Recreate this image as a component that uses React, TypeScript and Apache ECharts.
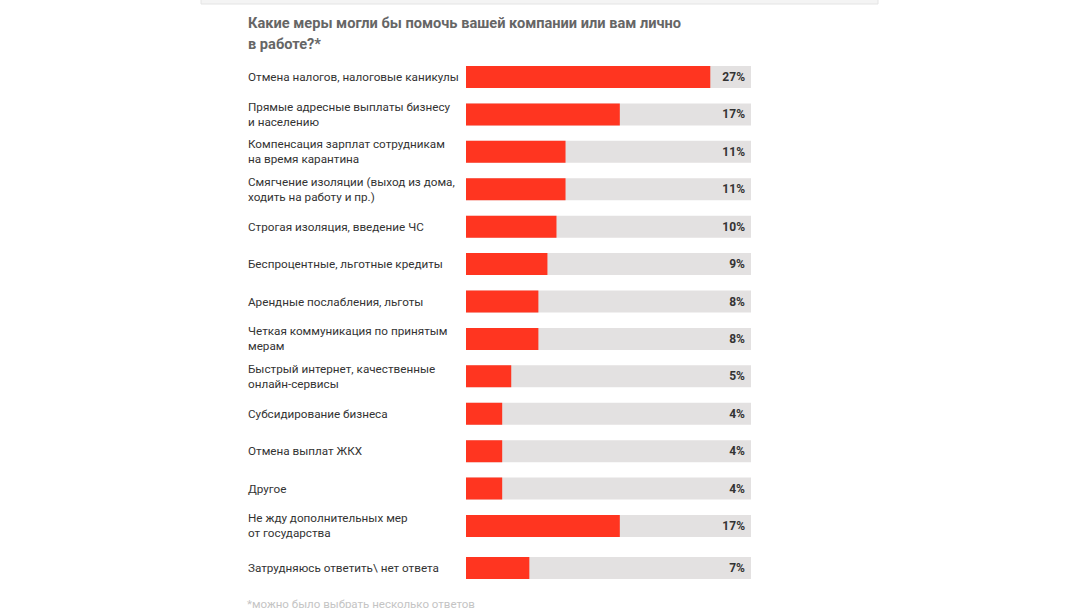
import React, { useEffect, useRef } from "react";
import * as echarts from "echarts";

const categories = [
  "Отмена налогов, налоговые каникулы",
  "Прямые адресные выплаты бизнесу\nи населению",
  "Компенсация зарплат сотрудникам\nна время карантина",
  "Смягчение изоляции (выход из дома,\nходить на работу и пр.)",
  "Строгая изоляция, введение ЧС",
  "Беспроцентные, льготные кредиты",
  "Арендные послабления, льготы",
  "Четкая коммуникация по принятым\nмерам",
  "Быстрый интернет, качественные\nонлайн-сервисы",
  "Субсидирование бизнеса",
  "Отмена выплат ЖКХ",
  "Другое",
  "Не жду дополнительных мер\nот государства",
];
const values = [27, 17, 11, 11, 10, 9, 8, 8, 5, 4, 4, 4, 17];

const lastCategory = ["Затрудняюсь ответить\\ нет ответа"];
const lastValues = [7];

const AXIS_MAX = 31.5;
const title = "Какие меры могли бы помочь вашей компании или вам лично\nв работе?*";
const footnote = "*можно было выбрать несколько ответов";

const FONT = "Roboto, 'Noto Sans', sans-serif";
const RED = "#ff3520";
const GREY = "#e3e1e1";

function buildSeries(vals: number[], axisIndex: number) {
  return [
    {
      type: "bar",
      xAxisIndex: axisIndex,
      yAxisIndex: axisIndex,
      data: vals.map(() => AXIS_MAX),
      barWidth: 22,
      itemStyle: { color: GREY },
      silent: true,
      z: 1,
      label: {
        show: true,
        position: "insideRight",
        distance: 6,
        formatter: (p: any) => vals[p.dataIndex] + "%",
        color: "#333",
        fontWeight: "bold",
        fontSize: 12,
        fontFamily: FONT,
      },
    },
    {
      type: "bar",
      xAxisIndex: axisIndex,
      yAxisIndex: axisIndex,
      data: vals,
      barWidth: 22,
      barGap: "-100%",
      itemStyle: { color: RED },
      z: 2,
    },
  ];
}

export default function App() {
  const ref = useRef<HTMLDivElement>(null);
  useEffect(() => {
    if (!ref.current) return;
    const chart = echarts.init(ref.current, undefined, { renderer: "svg" });
    const rowH = (544.7 - 58.3) / categories.length;
    const yAxisCommon = {
      type: "category",
      inverse: true,
      axisLine: { show: false },
      axisTick: { show: false },
      axisLabel: {
        align: "left",
        margin: 218,
        color: "#333",
        fontSize: 11.7,
        lineHeight: 15,
        fontFamily: FONT,
      },
    };
    const xAxisCommon = {
      type: "value",
      min: 0,
      max: AXIS_MAX,
      show: false,
      splitLine: { show: false },
    };
    chart.setOption({
      animation: false,
      backgroundColor: "#fff",
      grid: [
        { left: 466, right: 329, top: 58.3, height: 544.7 - 58.3 },
        { left: 466, right: 329, top: 549.3, height: rowH },
      ],
      xAxis: [
        { ...xAxisCommon, gridIndex: 0 },
        { ...xAxisCommon, gridIndex: 1 },
      ],
      yAxis: [
        { ...yAxisCommon, gridIndex: 0, data: categories },
        { ...yAxisCommon, gridIndex: 1, data: lastCategory },
      ],
      series: [...buildSeries(values, 0), ...buildSeries(lastValues, 1)],
      graphic: [
        {
          type: "rect",
          shape: { x: 201, y: -1, width: 677, height: 5 },
          style: { fill: "#f4f4f4", stroke: "#e4e4e4", lineWidth: 1 },
        },
        {
          type: "text",
          x: 248,
          y: 12,
          style: {
            text: title,
            fill: "#666",
            font: `bold 14.6px ${FONT}`,
            lineHeight: 21,
          },
        },
        {
          type: "text",
          x: 247,
          y: 598,
          style: {
            text: footnote,
            fill: "#c4c4c4",
            font: `11.5px ${FONT}`,
          },
        },
      ],
    });
    return () => chart.dispose();
  }, []);
  return (
    <div
      ref={ref}
      style={{ position: "fixed", left: 0, top: 0, width: 1080, height: 608 }}
    />
  );
}
